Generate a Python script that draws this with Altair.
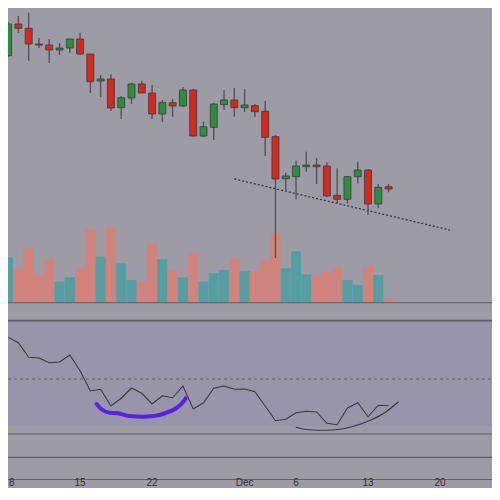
import altair as alt
import pandas as pd

# ---- data (price in chart units) ----
start = "2021-11-08"
opens  = [244.3, 276.0, 271.7, 256.0, 255.0, 250.0, 252.0, 261.0, 246.0, 219.0, 221.0, 192.3, 202.0, 216.0, 207.0, 186.0, 197.3, 194.0, 210.0, 164.0, 172.7, 195.3, 200.0, 192.3, 194.3, 188.7, 163.3, 121.3, 123.3, 133.3, 135.0, 134.0, 104.7, 100.7, 123.3, 130.0, 96.0, 113.3]
highs  = [278.0, 284.0, 287.3, 262.0, 261.0, 257.0, 261.0, 267.3, 246.0, 225.0, 226.0, 204.0, 217.3, 219.3, 215.0, 200.0, 201.0, 213.0, 211.3, 178.3, 197.0, 210.0, 212.0, 211.0, 196.0, 199.0, 165.0, 127.3, 139.3, 148.3, 141.7, 137.7, 131.7, 124.0, 138.3, 131.0, 116.0, 116.0]
lows   = [243.0, 267.0, 239.0, 252.0, 237.0, 245.0, 247.0, 245.0, 207.0, 203.0, 189.0, 181.0, 196.0, 207.0, 181.0, 178.0, 183.0, 193.0, 163.0, 163.0, 160.0, 190.0, 183.3, 188.0, 183.0, 144.0, 42.0, 108.3, 100.7, 128.3, 116.0, 102.7, 96.7, 96.7, 116.7, 85.0, 91.7, 107.7]
closes = [276.0, 271.7, 256.0, 255.0, 250.0, 252.0, 261.0, 246.0, 218.3, 221.0, 192.0, 202.3, 216.0, 207.0, 186.0, 197.3, 194.0, 210.0, 164.0, 173.3, 196.0, 200.0, 192.3, 195.0, 188.3, 162.7, 121.0, 124.0, 134.0, 135.0, 133.3, 104.0, 100.7, 123.3, 130.0, 96.0, 112.7, 111.0]
volumes = [45.4, 35.0, 54.7, 27.7, 43.4, 21.0, 25.4, 35.0, 73.4, 46.0, 75.4, 39.4, 22.7, 21.0, 59.4, 43.4, 32.7, 25.4, 50.0, 21.0, 29.4, 32.7, 44.4, 31.7, 31.0, 42.7, 69.4, 34.4, 51.4, 28.4, 27.0, 31.0, 35.4, 22.7, 17.7, 37.0, 27.7, 3.4]
rsi = [66.7, 64.5, 58.7, 58.4, 56.5, 56.8, 59.6, 53.3, 45.2, 45.9, 39.2, 42.3, 46.4, 44.3, 40.0, 43.3, 42.5, 47.2, 38.0, 40.5, 46.3, 47.2, 45.9, 46.0, 44.9, 39.2, 33.3, 33.9, 36.5, 37.1, 36.8, 32.3, 31.7, 38.4, 40.5, 34.9, 39.5, 39.3]

# hand-drawn annotations (day offset from start, value)
trend_day = [22.0, 42.95]
trend_price = [121.0, 70.0]
blue_day = [8.6, 9.08, 9.88, 10.67, 11.78, 13.05, 14.16, 15.27, 16.22, 16.92, 17.27]
blue_rsi = [40.0, 37.9, 36.5, 36.3, 35.2, 34.9, 35.2, 36.3, 38.0, 40.3, 42.3]
black_day = [27.97, 29.24, 30.83, 32.41, 33.69, 35.27, 36.54, 37.97]
black_rsi = [30.7, 29.7, 29.5, 30.0, 31.2, 33.6, 36.3, 40.9]

tick_days = [7, 14, 23, 28, 35, 42]
tick_labels = ["15", "22", "Dec", "6", "13", "20"]
first_label = "8"

# ---- frames ----
n = len(opens)
dates = pd.date_range(start, periods=n, freq="D")
df = pd.DataFrame({
    "date": dates, "open": opens, "high": highs, "low": lows,
    "close": closes, "volume": volumes, "rsi": rsi,
})
df["day"] = (df["date"] - pd.Timestamp(start)).dt.days
df["dir"] = ["up" if c >= o else "down" for o, c in zip(opens, closes)]

W, H = 484, 480
BG = "#9c9ba6"
xs = alt.Scale(domain=[0.476, 46.571], nice=False, zero=False)
ps = alt.Scale(domain=[0, 292], range=[292, 0], nice=False, zero=False)
vs = alt.Scale(domain=[0, 100], range=[294.7, 194.7], nice=False, zero=False)
rs = alt.Scale(domain=[0, 100], range=[496, 246], nice=False, zero=False)
X = alt.X("day:Q", scale=xs, axis=None)

one = pd.DataFrame({"a": [0]})

def hline(y, color, w):
    return alt.Chart(one).mark_rule(color=color, strokeWidth=w).encode(
        x=alt.value(0), x2=alt.value(W), y=alt.value(y))

rsi_bg = alt.Chart(one).mark_rect(color="#9895aa").encode(
    x=alt.value(0), x2=alt.value(W), y=alt.value(313), y2=alt.value(418))
low_bg = alt.Chart(one).mark_rect(color="#9d9ca4").encode(
    x=alt.value(0), x2=alt.value(W), y=alt.value(418), y2=alt.value(H))

base = alt.Chart(df)
vol = base.mark_bar(size=10, clip=True, opacity=0.88).encode(
    x=X,
    y=alt.Y("volume:Q", scale=vs, axis=None),
    color=alt.Color("dir:N", scale=alt.Scale(domain=["up", "down"], range=["#4b9ea2", "#d97f76"]), legend=None),
)
wick = base.mark_rule(color="#55545c", strokeWidth=1.4, clip=True).encode(
    x=X, y=alt.Y("low:Q", scale=ps, axis=None), y2="high:Q")
body = base.mark_bar(size=7, stroke="#3a3a3e", strokeWidth=0.8, clip=True).encode(
    x=X,
    y=alt.Y("open:Q", scale=ps, axis=None), y2="close:Q",
    color=alt.Color("dir:N", scale=alt.Scale(domain=["up", "down"], range=["#2f8d40", "#d6291d"]), legend=None),
)
trend = alt.Chart(pd.DataFrame({"day": trend_day, "p": trend_price})).mark_line(
    color="#36363c", strokeWidth=1.3, strokeDash=[2, 2], clip=True).encode(
    x=X, y=alt.Y("p:Q", scale=ps, axis=None))

mid = alt.Chart(pd.DataFrame({"v": [50]})).mark_rule(
    color="#55545c", strokeWidth=0.8, strokeDash=[3, 3]).encode(
    x=alt.value(0), x2=alt.value(W), y=alt.Y("v:Q", scale=rs, axis=None))
rsi_line = base.mark_line(color="#3a3a42", strokeWidth=1.1, clip=True).encode(
    x=X, y=alt.Y("rsi:Q", scale=rs, axis=None))
blue = alt.Chart(pd.DataFrame({"day": blue_day, "r": blue_rsi})).mark_line(
    color="#5a22e0", strokeWidth=4, interpolate="monotone", strokeCap="round").encode(
    x=X, y=alt.Y("r:Q", scale=rs, axis=None))
black = alt.Chart(pd.DataFrame({"day": black_day, "r": black_rsi})).mark_line(
    color="#38383e", strokeWidth=1.2, interpolate="monotone").encode(
    x=X, y=alt.Y("r:Q", scale=rs, axis=None))

labels = alt.Chart(pd.DataFrame({"day": tick_days, "t": tick_labels})).mark_text(
    fontSize=10, font="Liberation Sans", color="#2e2e33", baseline="middle").encode(
    x=X, y=alt.value(475), text="t:N")
label0 = alt.Chart(pd.DataFrame({"t": [first_label]})).mark_text(
    fontSize=10, font="Liberation Sans", color="#2e2e33", baseline="middle", align="left").encode(
    x=alt.value(1), y=alt.value(475), text="t:N")

chart = alt.layer(
    rsi_bg, low_bg,
    vol,
    hline(294.7, "#6a6970", 1.3), hline(312.7, "#5d5c64", 1.8),
    hline(426, "#62616a", 1.2), hline(449.3, "#62616a", 1.2), hline(471.5, "#62616a", 1.2),
    trend, wick, body,
    mid, rsi_line, blue, black, labels, label0,
).resolve_scale(y="independent", color="independent").properties(
    width=W, height=H, background=BG, padding=0,
    autosize=alt.AutoSizeParams(type="none"),
).configure_view(stroke=None)

chart.save("out.html", embed_options={"renderer": "svg", "actions": False})
